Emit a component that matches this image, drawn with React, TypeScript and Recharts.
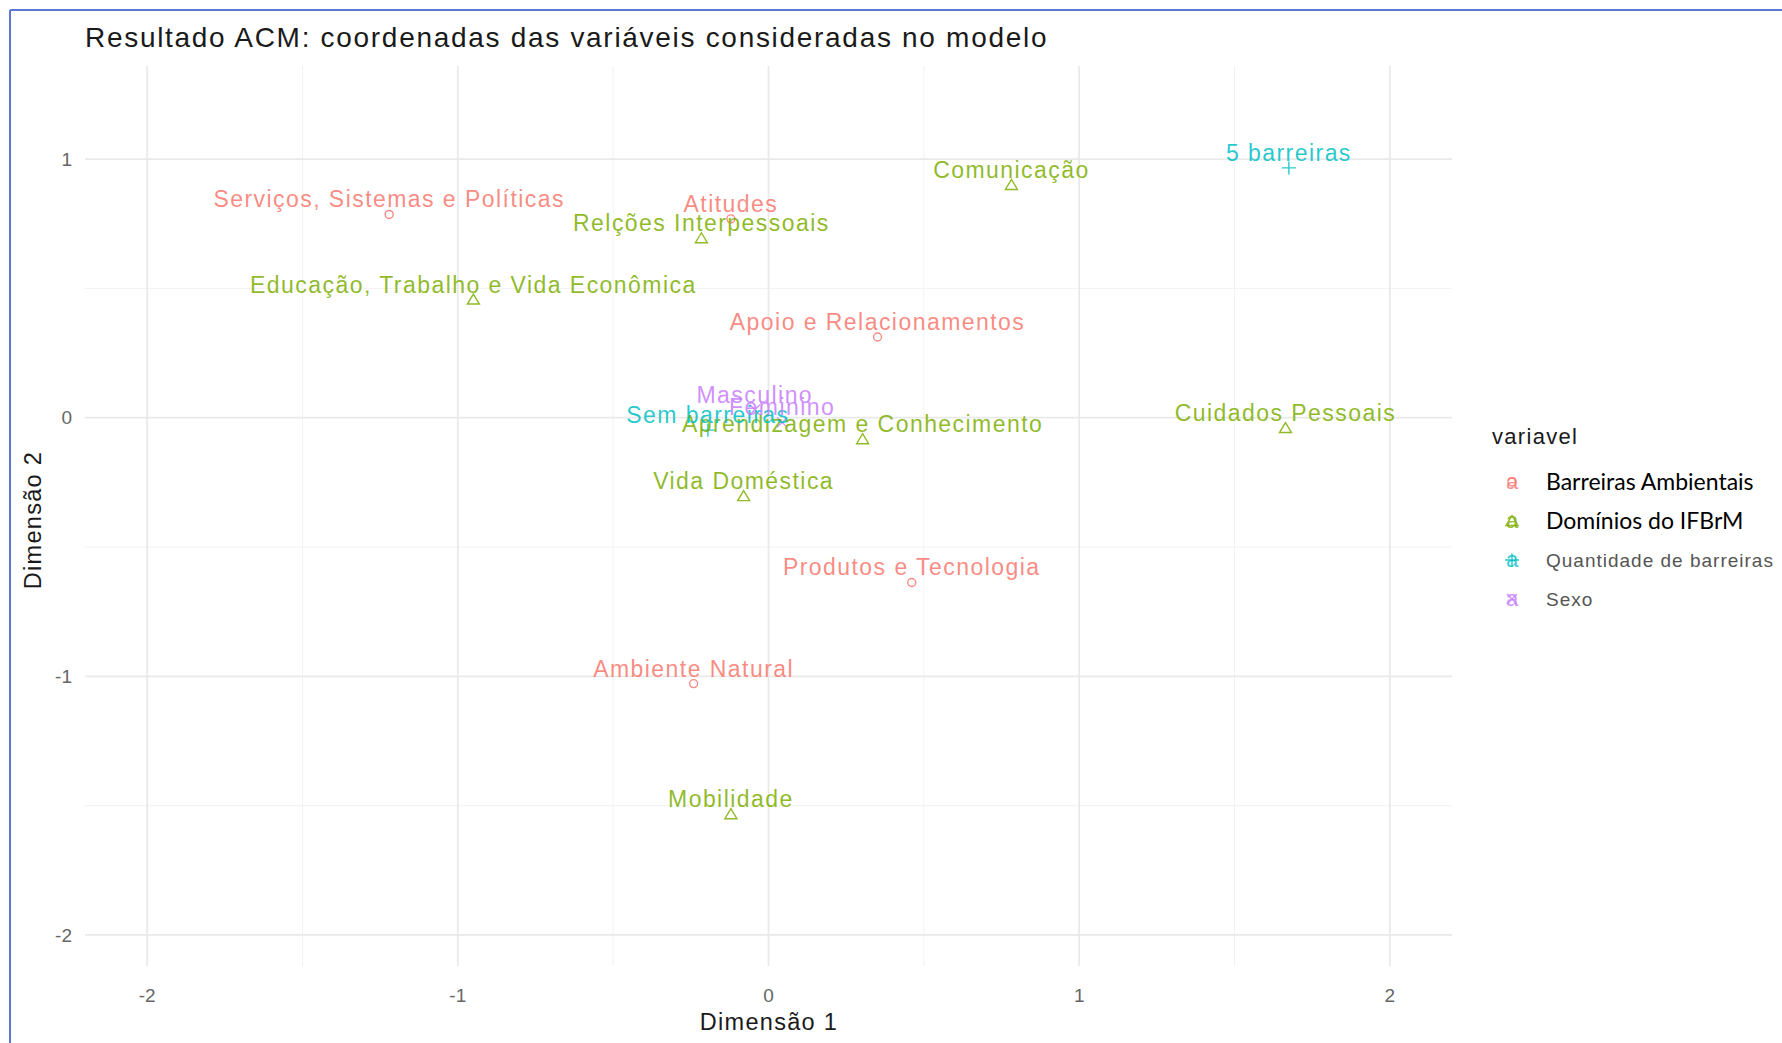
import { ScatterChart, Scatter, XAxis, YAxis, ReferenceLine } from 'recharts'

const FONT = '"Liberation Sans", Arial, sans-serif'

const GROUPS = ['Barreiras Ambientais', 'Domínios do IFBrM', 'Quantidade de barreiras', 'Sexo']
const COLORS = ['#F8766D', '#7CAE00', '#00BFC4', '#C77CFF']
const SHAPES = ['circle', 'triangle', 'plus', 'cross']

// coordenadas ACM
const barreirasNomes = ['Serviços, Sistemas e Políticas', 'Atitudes', 'Apoio e Relacionamentos', 'Produtos e Tecnologia', 'Ambiente Natural']
const barreirasDim1 = [-1.221, -0.121, 0.351, 0.461, -0.241]
const barreirasDim2 = [0.786, 0.769, 0.312, -0.637, -1.028]

const dominiosNomes = ['Comunicação', 'Relções Interpessoais', 'Educação, Trabalho e Vida Econômica', 'Cuidados Pessoais', 'Aprendizagem e Conhecimento', 'Vida Doméstica', 'Mobilidade']
const dominiosDim1 = [0.782, -0.216, -0.95, 1.664, 0.303, -0.08, -0.121]
const dominiosDim2 = [0.9, 0.694, 0.457, -0.04, -0.083, -0.303, -1.533]

const quantidadeNomes = ['5 barreiras', 'Sem barreiras']
const quantidadeDim1 = [1.675, -0.195]
const quantidadeDim2 = [0.966, -0.048]

const sexoNomes = ['Masculino', 'Feminino']
const sexoDim1 = [-0.044, 0.044]
const sexoDim2 = [0.031, -0.018]

const X_TICKS = [-2, -1, 0, 1, 2]
const Y_TICKS = [-2, -1, 0, 1]
const X_MINOR = [-1.5, -0.5, 0.5, 1.5]
const Y_MINOR = [-1.5, -0.5, 0.5]

const build = (nomes: string[], d1: number[], d2: number[]) =>
  nomes.map((nome, i) => ({ nome, x: d1[i], y: d2[i] }))

const SERIES = [
  build(barreirasNomes, barreirasDim1, barreirasDim2),
  build(dominiosNomes, dominiosDim1, dominiosDim2),
  build(quantidadeNomes, quantidadeDim1, quantidadeDim2),
  build(sexoNomes, sexoDim1, sexoDim2),
]

function Marker({ cx, cy, shape, color }: any) {
  const common = { stroke: color, strokeWidth: 1.4, fill: 'none', strokeOpacity: 0.85 }
  if (shape === 'circle') return <circle cx={cx} cy={cy} r={4} {...common} />
  if (shape === 'triangle')
    return <polygon points={`${cx},${cy - 5.5} ${cx + 6},${cy + 4.5} ${cx - 6},${cy + 4.5}`} {...common} />
  if (shape === 'plus')
    return <path d={`M${cx - 7},${cy}H${cx + 7}M${cx},${cy - 6.5}V${cy + 6.5}`} {...common} />
  return <path d={`M${cx - 5},${cy - 5}L${cx + 5},${cy + 5}M${cx - 5},${cy + 5}L${cx + 5},${cy - 5}`} {...common} />
}

const tickStyle = { fontSize: 19, fill: '#666', fontFamily: FONT }

export default function App() {
  return (
    <div style={{ position: 'absolute', left: 0, top: 0, width: 1782, height: 1043, background: '#fff', overflow: 'hidden' }}>
      <ScatterChart
        width={1782}
        height={1043}
        margin={{ top: 66, right: 330, bottom: 17, left: 25 }}
        style={{ position: 'absolute', left: 0, top: 0 }}
      >
        {X_MINOR.map((v) => (
          <ReferenceLine key={`vx${v}`} x={v} stroke="#f2f2f2" strokeWidth={1} />
        ))}
        {Y_MINOR.map((v) => (
          <ReferenceLine key={`hy${v}`} y={v} stroke="#f2f2f2" strokeWidth={1} />
        ))}
        {X_TICKS.map((v) => (
          <ReferenceLine key={`VX${v}`} x={v} stroke="#e9e9e9" strokeWidth={1.7} />
        ))}
        {Y_TICKS.map((v) => (
          <ReferenceLine key={`HY${v}`} y={v} stroke="#e9e9e9" strokeWidth={1.7} />
        ))}
        <XAxis
          type="number"
          dataKey="x"
          domain={[-2.2, 2.2]}
          ticks={X_TICKS}
          allowDataOverflow
          axisLine={false}
          tickLine={false}
          tickSize={6}
          tickMargin={17}
          height={60}
          tick={tickStyle}
        />
        <YAxis
          type="number"
          dataKey="y"
          domain={[-2.12, 1.36]}
          ticks={Y_TICKS}
          allowDataOverflow
          axisLine={false}
          tickLine={false}
          tickSize={6}
          tickMargin={7}
          width={60}
          tick={tickStyle}
        />
        {SERIES.map((data, g) => (
          <Scatter
            key={`p${g}`}
            data={data}
            isAnimationActive={false}
            shape={(p: any) => <Marker cx={p.cx} cy={p.cy} shape={SHAPES[g]} color={COLORS[g]} />}
          />
        ))}
        {SERIES.map((data, g) => (
          <Scatter
            key={`t${g}`}
            data={data}
            isAnimationActive={false}
            shape={(p: any) => (
              <text
                x={p.cx}
                y={p.cy - 7}
                textAnchor="middle"
                fill={COLORS[g]}
                fillOpacity={0.85}
                fontSize={23}
                letterSpacing={1.45}
                fontFamily={FONT}
              >
                {p.payload.nome}
              </text>
            )}
          />
        ))}
      </ScatterChart>

      <svg width={1782} height={1043} style={{ position: 'absolute', left: 0, top: 0, pointerEvents: 'none' }}>
        <line x1={10} y1={10} x2={1782} y2={10} stroke="#5a78d4" strokeWidth={2} />
        <line x1={10} y1={10} x2={10} y2={1043} stroke="#5a78d4" strokeWidth={2} />
        <text x={85} y={47} fontSize={28} letterSpacing={1.7} fill="#1a1a1a" fontFamily={FONT}>
          Resultado ACM: coordenadas das variáveis consideradas no modelo
        </text>
        <text x={769} y={1030} fontSize={23.5} letterSpacing={1.3} textAnchor="middle" fill="#1a1a1a" fontFamily={FONT}>
          Dimensão 1
        </text>
        <text
          x={41}
          y={520}
          fontSize={23.5}
          letterSpacing={1.3}
          textAnchor="middle"
          fill="#1a1a1a"
          fontFamily={FONT}
          transform="rotate(-90 41 520)"
        >
          Dimensão 2
        </text>

        <text x={1492} y={444} fontSize={22} letterSpacing={1.3} fill="#1a1a1a" fontFamily={FONT}>
          variavel
        </text>
        {GROUPS.map((name, g) => {
          const cy = 482 + g * 39
          const dark = g < 2
          return (
            <g key={name}>
              <text x={1512} y={cy + 7} textAnchor="middle" fontSize={22} fill={COLORS[g]} fillOpacity={0.8} fontFamily={FONT}>
                a
              </text>
              <Marker cx={1512} cy={cy} shape={SHAPES[g]} color={COLORS[g]} />
              <text
                x={1546}
                y={cy + (dark ? 8 : 7)}
                fontSize={dark ? 23 : 19}
                letterSpacing={dark ? 0 : 1}
                fill={dark ? '#000' : '#555'}
                fontFamily={dark ? 'Lato, "Liberation Sans", sans-serif' : FONT}
              >
                {name}
              </text>
            </g>
          )
        })}
      </svg>
    </div>
  )
}
